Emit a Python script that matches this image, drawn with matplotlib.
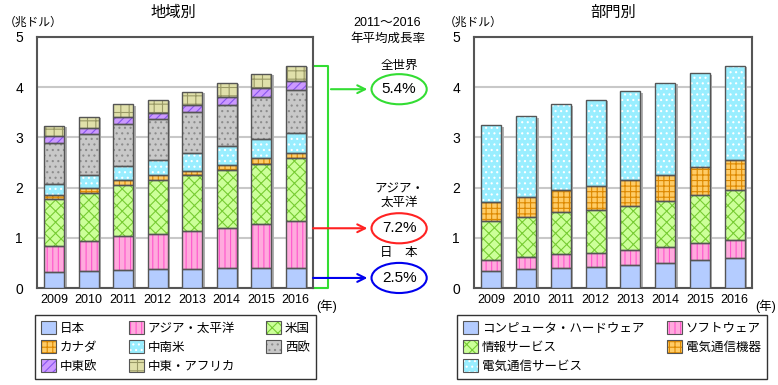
import numpy as np
import matplotlib.pyplot as plt
from matplotlib.patches import Patch, Ellipse
from matplotlib.legend_handler import HandlerTuple

plt.rcParams['font.family'] = ['Liberation Sans', 'Noto Sans CJK JP', 'DejaVu Sans']
plt.rcParams['hatch.linewidth'] = 0.8

years = ['2009', '2010', '2011', '2012', '2013', '2014', '2015', '2016']

# 地域別 (兆ドル)
japan = [0.31, 0.33, 0.36, 0.38, 0.38, 0.39, 0.40, 0.40]
asia = [0.52, 0.60, 0.67, 0.69, 0.75, 0.81, 0.87, 0.94]
usa = [0.94, 0.97, 1.02, 1.08, 1.12, 1.16, 1.21, 1.24]
canada = [0.08, 0.09, 0.10, 0.10, 0.09, 0.10, 0.10, 0.10]
latam = [0.22, 0.27, 0.29, 0.30, 0.34, 0.36, 0.38, 0.40]
w_europe = [0.82, 0.80, 0.82, 0.81, 0.82, 0.82, 0.85, 0.87]
ce_europe = [0.14, 0.13, 0.15, 0.13, 0.15, 0.17, 0.17, 0.18]
mea = [0.20, 0.22, 0.25, 0.26, 0.26, 0.28, 0.29, 0.30]

# 部門別 (兆ドル)
hardware = [0.33, 0.38, 0.40, 0.42, 0.46, 0.50, 0.55, 0.59]
software = [0.23, 0.24, 0.27, 0.28, 0.29, 0.31, 0.34, 0.37]
it_service = [0.78, 0.79, 0.84, 0.85, 0.89, 0.92, 0.96, 0.99]
equipment = [0.37, 0.41, 0.44, 0.48, 0.51, 0.53, 0.57, 0.59]
telecom = [1.53, 1.60, 1.71, 1.72, 1.77, 1.83, 1.86, 1.89]

growth_labels = ['全世界', 'アジア・\n太平洋', '日　本']
growth_values = ['5.4%', '7.2%', '2.5%']

# (label, face, hatch color, hatch)
styles_region = [
    ('日本', '#b4ccff', '#b4ccff', ''),
    ('アジア・太平洋', '#ffaadd', '#ff55cc', '|||'),
    ('米国', '#ccff99', '#77cc33', 'xxx'),
    ('カナダ', '#ffcc66', '#dd8800', '+++'),
    ('中南米', '#99eeff', '#ffffff', '...'),
    ('西欧', '#c8c8c8', '#8c8c8c', '...'),
    ('中東欧', '#cc99ff', '#8855ee', '////'),
    ('中東・アフリカ', '#e0e0aa', '#999966', '++'),
]
styles_sector = [
    ('コンピュータ・ハードウェア', '#b4ccff', '#b4ccff', ''),
    ('ソフトウェア', '#ffaadd', '#ff55cc', '|||'),
    ('情報サービス', '#ccff99', '#77cc33', 'xxx'),
    ('電気通信機器', '#ffcc66', '#dd8800', '+++'),
    ('電気通信サービス', '#99eeff', '#ffffff', '...'),
]


def stacked(ax, series, styles):
    x = np.arange(len(years))
    w = 0.58
    total = np.sum(series, axis=0)
    # shadow
    ax.bar(x + 0.07, total, w, bottom=-0.03, color='#b0b0b0', zorder=2)
    bottom = np.zeros(len(years))
    for vals, (lab, fc, hc, h) in zip(series, styles):
        ax.bar(x, vals, w, bottom=bottom, color=fc, edgecolor='none', zorder=3)
        if h:
            ax.bar(x, vals, w, bottom=bottom, facecolor='none', edgecolor=hc,
                   hatch=h, linewidth=0, zorder=4)
        ax.bar(x, vals, w, bottom=bottom, facecolor='none', edgecolor='#555555',
               linewidth=1.0, zorder=5)
        bottom += np.array(vals)
    ax.set_xlim(-0.5, 7.5)
    ax.set_ylim(0, 5)
    ax.set_yticks([0, 1, 2, 3, 4, 5])
    ax.set_xticks(x)
    ax.set_xticklabels(years, fontsize=9)
    ax.tick_params(axis='y', labelsize=10, length=0, pad=10)
    ax.tick_params(axis='x', length=0, pad=4)
    ax.grid(axis='y', color='#c8c8c8', linewidth=1.5, zorder=1)
    ax.set_axisbelow(True)
    for s in ax.spines.values():
        s.set_color('#555555')
        s.set_linewidth(1.5)
    ax.text(1.01, -0.045, '(年)', transform=ax.transAxes, fontsize=9,
            ha='left', va='top')


def patches(styles):
    # fill + hatch, then a grey outline on top
    out = []
    for lab, fc, hc, h in styles:
        fill = Patch(facecolor=fc, edgecolor=hc, hatch=h, linewidth=0)
        edge = Patch(facecolor='none', edgecolor='#555555', linewidth=0.8)
        out.append((fill, edge))
    return out


fig = plt.figure(figsize=(7.78, 3.85), dpi=100)
ax1 = fig.add_axes([37 / 778, 1 - 288 / 385, 276 / 778, 251 / 385])
ax2 = fig.add_axes([474 / 778, 1 - 288 / 385, 278 / 778, 251 / 385])

regions = [japan, asia, usa, canada, latam, w_europe, ce_europe, mea]
stacked(ax1, regions, styles_region)
stacked(ax2, [hardware, software, it_service, equipment, telecom], styles_sector)

fig.text(173 / 778, 1 - 13 / 385, '地域別', fontsize=11, ha='center', va='center')
fig.text(613 / 778, 1 - 13 / 385, '部門別', fontsize=11, ha='center', va='center')
fig.text(4 / 778, 1 - 23 / 385, '（兆ドル）', fontsize=8.5, ha='left', va='center')
fig.text(444 / 778, 1 - 23 / 385, '（兆ドル）', fontsize=8.5, ha='left', va='center')

# growth annotations
tr = ax1.get_yaxis_transform()
top2016 = sum(s[-1] for s in regions)
ax1.plot([1.0, 1.055, 1.055, 1.0], [top2016, top2016, 0, 0],
         color='#33dd33', lw=1.5, transform=tr, clip_on=False)
ax1.text(1.27, 5.27, '2011～2016', transform=tr, fontsize=9, ha='center', va='center')
ax1.text(1.27, 4.97, '年平均成長率', transform=tr, fontsize=9, ha='center', va='center')

arrow_y = [3.96, 1.19, 0.2]
arrow_x0 = [1.065, 1.0, 1.0]
colors = ['#33dd33', '#ff2222', '#0000ee']
label_y = [4.43, 1.83, 0.70]
for ay, ax0, c, lab, val, ly in zip(arrow_y, arrow_x0, colors, growth_labels,
                                     growth_values, label_y):
    ax1.annotate('', xy=(1.197, ay), xytext=(ax0, ay), xycoords=tr, textcoords=tr,
                 arrowprops=dict(arrowstyle='->', color=c, lw=1.5,
                                 mutation_scale=14, shrinkA=0, shrinkB=0),
                 annotation_clip=False)
    ax1.add_patch(Ellipse((1.312, ay), 0.2, 0.6, transform=tr, facecolor='white',
                          edgecolor=c, lw=1.5, clip_on=False))
    ax1.text(1.312, ay, val, transform=tr, fontsize=11, ha='center', va='center')
    ax1.text(1.312, ly, lab, transform=tr, fontsize=9, ha='center', va='center',
             linespacing=1.1)

# legends
common = dict(loc='upper left', fontsize=9, frameon=True, fancybox=False,
              edgecolor='black', handlelength=1.2, handleheight=1.2,
              handletextpad=0.3, borderpad=0.5, labelspacing=0.42,
              borderaxespad=0, handler_map={tuple: HandlerTuple(ndivide=1)})
h1 = patches(styles_region)
order = [0, 3, 6, 1, 4, 7, 2, 5]
leg1 = fig.legend([h1[i] for i in order], [styles_region[i][0] for i in order],
                  bbox_to_anchor=(35 / 778, 1 - 315 / 385), ncol=3,
                  columnspacing=2.5, **common)
leg1.get_frame().set_linewidth(1.0)
h2 = patches(styles_sector)
order2 = [0, 2, 4, 1, 3]
leg2 = fig.legend([h2[i] for i in order2], [styles_sector[i][0] for i in order2],
                  bbox_to_anchor=(457 / 778, 1 - 315 / 385), ncol=2,
                  columnspacing=1.8, **common)
leg2.get_frame().set_linewidth(1.0)

fig.savefig('out.png', dpi=100)
